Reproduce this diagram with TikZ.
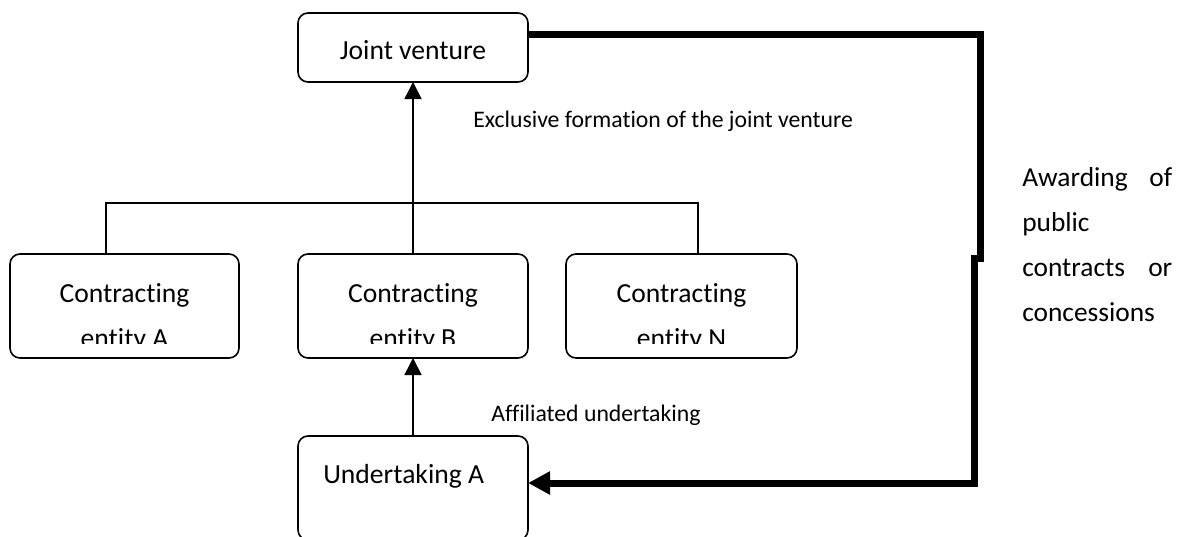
\documentclass[tikz,border=0pt]{standalone}
\usepackage{fontspec}
\setmainfont{Carlito}[Ligatures=NoCommon]
\usetikzlibrary{arrows.meta}
\begin{document}
\begin{tikzpicture}[x=0.75pt,y=-0.75pt,
  box/.style={draw, line width=1.2pt, rounded corners=7.5pt, inner sep=0pt, outer sep=0pt},
  boxtext/.style={font=\fontsize{20.7}{33.75}\selectfont, inner sep=0pt, align=center},
  lbl/.style={font=\fontsize{17.8}{21}\selectfont, inner sep=0pt},
  conn/.style={line width=1pt},
  connarrow/.style={line width=1.2pt, -{Triangle[length=12.75pt,width=12.75pt]}},
  heavyline/.style={line width=5.25pt, line join=miter, -{Triangle[length=16.5pt,width=16.5pt]}},
  ]
\useasboundingbox (0,0) rectangle (1189,536);
\clip (0,0) rectangle (1189,536);

% boxes
\node[box, minimum width=172.5pt, minimum height=51.75pt] (jv) at (413,47.5) {};
\node[box, minimum width=171.75pt, minimum height=78pt] (ea) at (124.5,306) {};
\node[box, minimum width=172.5pt, minimum height=78pt] (eb) at (413,306) {};
\node[box, minimum width=173.25pt, minimum height=78pt] (en) at (681.5,306) {};
\node[box, minimum width=172.5pt, minimum height=78pt] (ua) at (413,488) {};

% box texts (the second line is cut off by the text area)
\node[boxtext, anchor=base] (jvt) at (413,59) {Joint venture};
\begin{scope}
  \clip (0,0) rectangle (1189,343);
  \node[boxtext, anchor=base] (eat) at (124.5,347) {Contracting\\entity A};
  \node[boxtext, anchor=base] (ebt) at (413,347) {Contracting\\entity B};
  \node[boxtext, anchor=base] (ent) at (681.5,347) {Contracting\\entity N};
\end{scope}
\node[boxtext, anchor=base west] (uat) at (323,483) {Undertaking A};

% labels
\node[lbl, anchor=base west] (excl) at (473,127) {Exclusive formation of the joint venture};
\node[lbl, anchor=base west] (affl) at (491,421) {Affiliated undertaking};
\node[anchor=base west, inner sep=0pt, text width=112.5pt, align=left,
      font=\fontsize{20.55}{33.75}\selectfont] (award) at (1022,186)
      {Awarding\hfill of\\public\\contracts\hfill or\\concessions};

% tree connecting the contracting entities
\coordinate (busL) at (106,203);
\coordinate (busR) at (698,203);
\draw[conn] (ea.north -| busL) -- (busL) -- (busR) -- (en.north -| busR);
\draw[connarrow] (eb.north) -- (jv.south);
\draw[connarrow] (ua.north) -- (eb.south);

% award path
\coordinate (r1) at (980,34);
\coordinate (r2) at (980,258);
\coordinate (r3) at (974,258);
\coordinate (r4) at (974,483);
\draw[heavyline] (jv.east |- r1) -- (r1) -- (r2) -- (r3) -- (r4) -- (ua.east |- r4);
\end{tikzpicture}
\end{document}
